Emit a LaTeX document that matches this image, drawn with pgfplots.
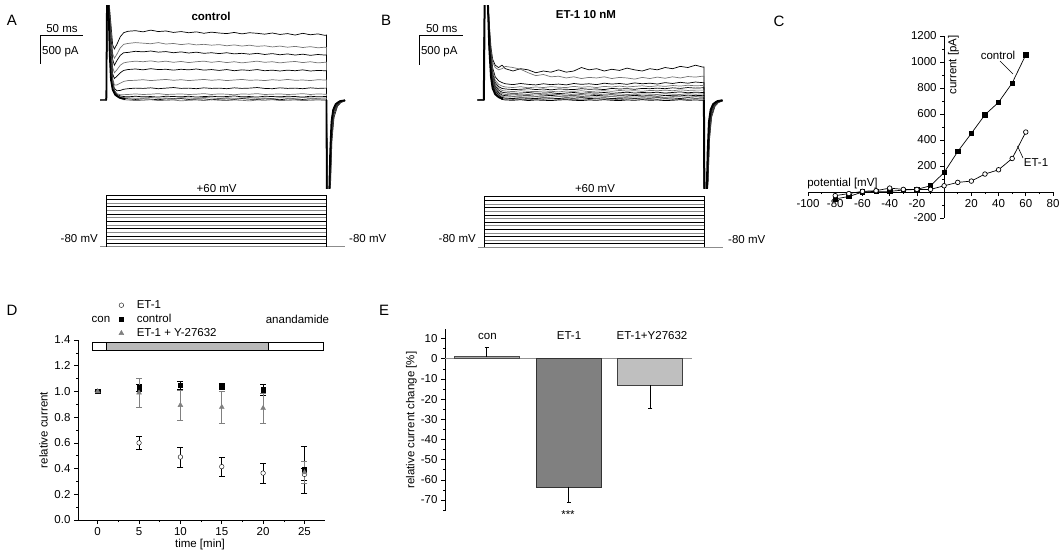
\documentclass[border=0pt]{standalone}
\usepackage{fontspec}
\setmainfont{Liberation Sans}
\usepackage{pgfplots}
\usepackage{pgfplotstable}
\pgfplotsset{compat=1.18}
\definecolor{tr}{gray}{0.45}
\definecolor{protg}{gray}{0.55}
\definecolor{triG}{gray}{0.5}
\newcommand{\fs}{\fontsize{11.5}{13}\selectfont}
\newcommand{\fl}{\fontsize{15}{17}\selectfont}
\pgfplotsset{
  every axis/.append style={font=\fs, /pgf/number format/assume math mode=true,
    /pgf/number format/set thousands separator={},
    tick style={black, line width=0.6pt}, major tick length=4pt, minor tick length=2pt,
    axis line style={line width=0.7pt}, enlargelimits=false},
  traceax/.style={anchor=south west, scale only axis, hide axis, width=245pt, height=183pt,
    xmin=0, xmax=290, ymin=-1517, ymax=1638, clip=true},
  protax/.style={anchor=south west, scale only axis, hide axis, width=245pt,
    xmin=0, xmax=290, ymin=-80, ymax=60, clip=false},
}
% ---------- panel A current traces (t in ms, current in pA)
\pgfplotstableread{
t a b c d e f g h i j k l
0 0 0 0 0 0 0 0 0 0 0 0 0
4 0 5 -5 0 10 -5 5 0 -10 5 0 -5
7.5 0 0 0 0 0 0 0 0 0 0 0 0
8.3 1800 1800 1800 1800 1800 1800 1800 1800 1800 1800 1800 1800
10 1800 1800 1800 1800 1800 1800 1800 1800 1800 1800 1800 1800
13 1300 1200 1100 1000 900 800 700 650 620 600 580 560
15 950 800 700 560 450 380 330 300 280 270 260 250
17 880 720 600 470 370 260 200 170 160 150 140 130
20 960 790 680 520 410 260 160 110 95 85 75 65
24 1090 900 770 600 470 290 165 90 70 55 40 30
28 1160 960 815 640 510 320 185 92 60 42 22 5
33 1185 975 820 655 525 335 195 95 55 40 20 0
42 1195 990 840 670 535 340 205 105 65 30 10 -10
51 1175 980 830 660 520 350 200 95 55 35 20 -5
60 1205 970 845 675 540 335 210 100 60 45 15 5
69 1180 990 825 655 525 345 195 110 50 30 5 -10
78 1190 965 835 670 530 355 205 95 65 35 20 -5
87 1165 975 815 650 515 340 215 100 60 25 15 0
96 1180 955 830 665 530 350 200 105 55 40 25 -15
105 1160 970 810 645 520 335 205 95 65 35 10 -5
114 1175 950 825 660 535 345 195 100 50 30 15 0
123 1150 960 805 670 515 355 210 110 60 45 20 -10
132 1170 945 815 650 525 340 200 95 65 35 5 5
141 1155 955 800 665 510 350 205 105 55 25 15 -5
150 1145 935 815 645 525 335 195 100 60 40 20 -10
159 1165 950 795 660 505 345 210 90 70 30 10 0
168 1140 930 805 640 520 355 200 105 55 35 25 -5
177 1160 945 790 655 510 340 205 100 60 45 15 -15
186 1150 925 805 670 525 345 215 110 50 30 10 0
195 1135 935 785 650 505 335 200 95 65 35 20 -5
204 1155 915 800 660 515 350 195 100 60 25 15 5
213 1130 930 780 640 500 340 210 105 55 40 5 -10
222 1145 910 795 655 515 355 200 95 65 35 20 -5
231 1120 925 775 665 505 340 205 100 60 30 15 0
240 1150 905 790 645 520 345 195 110 50 45 10 -10
249 1125 920 770 660 500 335 210 95 65 35 20 -5
258 1140 900 785 640 510 350 200 105 55 30 15 0
266 1115 910 775 650 505 345 205 100 60 35 15 -5
268 1120 905 775 650 505 345 205 100 60 35 15 -5
268.6 -1800 -1800 -1800 -1800 -1800 -1800 -1800 -1800 -1800 -1800 -1800 -1800
271 -1800 -1800 -1800 -1800 -1800 -1800 -1800 -1800 -1800 -1800 -1800 -1800
273 -1400 -1300 -1200 -1100 -1000 -900 -850 -800 -780 -760 -740 -720
274.5 -700 -620 -560 -500 -440 -390 -360 -340 -320 -310 -300 -290
277 -300 -260 -230 -200 -180 -160 -150 -140 -135 -130 -125 -120
281 -110 -100 -90 -80 -70 -60 -55 -50 -48 -45 -42 -40
285 -45 -40 -35 -30 -28 -25 -22 -20 -18 -16 -14 -12
290 -15 -12 -10 -10 -8 -8 -6 -5 -5 -4 -3 -2
}\traceA
% ---------- panel B current traces
\pgfplotstableread{
t a b c d e f g h i j k l m
0 0 0 0 0 0 0 0 0 0 0 0 0 0
4 5 0 -5 10 0 -5 5 -10 0 5 -5 0 5
7.5 0 0 0 0 0 0 0 0 0 0 0 0 0
8.5 1800 1800 1800 1800 1800 1800 1800 1800 1800 1800 1800 1800 1800
12 1800 1800 1800 1800 1800 1800 1800 1800 1800 1800 1800 1800 1800
14 1300 1250 1200 1150 1100 1050 1000 980 960 940 920 900 880
16 900 850 800 750 700 650 620 600 580 560 540 520 500
18 700 650 550 500 450 420 400 380 360 340 320 300 280
21 600 560 400 340 300 270 240 220 200 180 160 140 120
25 560 520 330 270 230 200 170 145 125 105 85 65 50
29 600 540 300 240 200 165 135 110 85 65 45 25 10
33 540 580 280 225 190 155 125 95 75 50 30 15 0
42 500 560 265 215 180 145 115 100 65 55 25 10 -5
51 540 530 285 230 185 160 120 90 70 45 35 15 5
60 520 470 270 210 195 150 130 95 75 50 30 5 -10
69 470 420 260 225 180 145 115 105 65 55 25 15 0
78 500 440 280 215 190 155 120 90 70 45 35 10 -5
87 480 400 265 230 175 150 125 100 80 50 30 20 -10
96 520 410 275 220 190 140 110 95 65 60 25 10 0
105 480 380 260 215 185 155 120 85 70 45 35 15 5
114 500 400 285 235 180 150 130 100 75 55 30 5 -5
123 560 370 270 220 195 160 115 95 65 50 40 15 -10
132 520 390 280 230 185 145 125 105 70 45 25 10 0
141 540 380 265 215 190 155 120 90 80 55 30 20 -5
150 500 400 290 235 180 160 130 100 70 50 35 10 5
159 530 370 275 225 200 150 115 95 65 60 25 15 -5
168 510 390 285 240 190 165 125 105 75 45 30 5 -10
177 550 380 270 225 195 155 135 95 70 55 35 15 0
186 520 360 295 235 185 160 120 90 80 50 25 20 -5
195 500 390 280 245 200 150 130 105 70 60 35 10 5
204 540 370 290 230 195 165 125 100 75 50 30 15 -5
213 520 395 275 245 205 160 135 95 65 55 40 10 0
222 560 375 300 235 195 170 120 110 80 45 30 20 -10
231 540 400 285 250 210 160 130 100 75 60 35 10 -5
240 580 380 305 240 200 175 140 95 70 55 25 15 5
249 560 405 290 255 215 165 125 110 85 50 40 10 -5
258 600 395 310 245 205 170 135 100 75 60 30 20 0
266 570 410 300 250 210 170 130 105 80 55 35 15 -5
268 570 410 300 250 210 170 130 105 80 55 35 15 -5
268.6 -1800 -1800 -1800 -1800 -1800 -1800 -1800 -1800 -1800 -1800 -1800 -1800 -1800
271 -1800 -1800 -1800 -1800 -1800 -1800 -1800 -1800 -1800 -1800 -1800 -1800 -1800
273 -1400 -1350 -1250 -1150 -1050 -980 -920 -870 -830 -800 -780 -760 -740
274.5 -700 -660 -600 -540 -480 -430 -400 -370 -350 -330 -315 -300 -290
277 -300 -280 -250 -220 -195 -175 -160 -150 -140 -132 -126 -120 -115
281 -110 -105 -95 -85 -75 -65 -58 -52 -48 -45 -42 -40 -38
285 -45 -42 -38 -33 -29 -26 -23 -20 -18 -16 -14 -12 -10
290 -15 -13 -11 -10 -9 -8 -7 -6 -5 -4 -3 -2 -2
}\traceB
\begin{document}
\begin{tikzpicture}
\useasboundingbox (0,0) rectangle (1063pt,-554pt);
% ================= Panel A =================
\node[font=\fl] at (12pt,-20pt) {A};
\node[font=\fs\bfseries] at (211pt,-16pt) {control};
\draw[line width=0.7pt] (40.7pt,-35pt) -- (83.3pt,-35pt);
\draw[line width=0.7pt] (40.7pt,-35pt) -- (40.7pt,-64pt);
\node[font=\fs] at (62pt,-28.5pt) {50 ms};
\node[font=\fs, anchor=west, inner sep=0.5pt] at (41.5pt,-52pt) {500 pA};
\begin{axis}[traceax, at={(100pt,-188pt)}]
\addplot[black, line width=0.7pt] table[x=t,y=a]{\traceA};
\addplot[tr, line width=0.7pt] table[x=t,y=b]{\traceA};
\addplot[black, line width=0.7pt] table[x=t,y=c]{\traceA};
\addplot[tr, line width=0.7pt] table[x=t,y=d]{\traceA};
\addplot[black, line width=0.7pt] table[x=t,y=e]{\traceA};
\addplot[tr, line width=0.7pt] table[x=t,y=f]{\traceA};
\addplot[black, line width=0.7pt] table[x=t,y=g]{\traceA};
\addplot[tr, line width=0.7pt] table[x=t,y=h]{\traceA};
\addplot[black, line width=0.7pt] table[x=t,y=i]{\traceA};
\addplot[tr, line width=0.7pt] table[x=t,y=j]{\traceA};
\addplot[black, line width=0.7pt] table[x=t,y=k]{\traceA};
\addplot[tr, line width=0.7pt] table[x=t,y=l]{\traceA};
\addplot[black, line width=1.8pt] coordinates {(7.5,0)(8.3,1800)(9.8,1800)(11.5,800)(13,350)(15,180)(18,90)(23,40)(30,15)};
\addplot[black, line width=1.8pt] coordinates {(268,0)(268.6,-1800)(271,-1800)(272.5,-900)(274,-380)(276,-170)(279,-70)(284,-20)(290,-5)};
\end{axis}
\begin{axis}[protax, height=51pt, at={(100pt,-246.7pt)}]
\addplot[protg, line width=0.8pt] coordinates {(0,-80)(290,-80)};
\addplot[black] coordinates {(8,-70)(268.5,-70)};
\addplot[protg] coordinates {(8,-60)(268.5,-60)};
\addplot[black] coordinates {(8,-50)(268.5,-50)};
\addplot[protg] coordinates {(8,-40)(268.5,-40)};
\addplot[black] coordinates {(8,-30)(268.5,-30)};
\addplot[protg] coordinates {(8,-20)(268.5,-20)};
\addplot[black] coordinates {(8,-10)(268.5,-10)};
\addplot[protg] coordinates {(8,0)(268.5,0)};
\addplot[black] coordinates {(8,10)(268.5,10)};
\addplot[protg] coordinates {(8,20)(268.5,20)};
\addplot[black] coordinates {(8,30)(268.5,30)};
\addplot[protg] coordinates {(8,40)(268.5,40)};
\addplot[black] coordinates {(8,50)(268.5,50)};
\addplot[black, line width=0.7pt] coordinates {(8,-80)(8,60)(268.5,60)(268.5,-80)};
\end{axis}
\node[font=\fs] at (216.7pt,-188.5pt) {+60 mV};
\node[font=\fs, anchor=east, inner sep=1pt] at (99pt,-239pt) {-80 mV};
\node[font=\fs, anchor=west, inner sep=1pt] at (348pt,-239pt) {-80 mV};
% ================= Panel B =================
\node[font=\fl] at (386pt,-20pt) {B};
\node[font=\fs\bfseries] at (586pt,-15pt) {ET-1 10 nM};
\draw[line width=0.7pt] (419.5pt,-35pt) -- (463.3pt,-35pt);
\draw[line width=0.7pt] (419.5pt,-35pt) -- (419.5pt,-65pt);
\node[font=\fs] at (441.7pt,-28.5pt) {50 ms};
\node[font=\fs, anchor=west, inner sep=0.5pt] at (420.3pt,-52pt) {500 pA};
\begin{axis}[traceax, at={(477.5pt,-188pt)}]
\addplot[black, line width=0.7pt] table[x=t,y=a]{\traceB};
\addplot[tr, line width=0.7pt] table[x=t,y=b]{\traceB};
\addplot[black, line width=0.7pt] table[x=t,y=c]{\traceB};
\addplot[tr, line width=0.7pt] table[x=t,y=d]{\traceB};
\addplot[black, line width=0.7pt] table[x=t,y=e]{\traceB};
\addplot[tr, line width=0.7pt] table[x=t,y=f]{\traceB};
\addplot[black, line width=0.7pt] table[x=t,y=g]{\traceB};
\addplot[tr, line width=0.7pt] table[x=t,y=h]{\traceB};
\addplot[black, line width=0.7pt] table[x=t,y=i]{\traceB};
\addplot[tr, line width=0.7pt] table[x=t,y=j]{\traceB};
\addplot[black, line width=0.7pt] table[x=t,y=k]{\traceB};
\addplot[tr, line width=0.7pt] table[x=t,y=l]{\traceB};
\addplot[black, line width=0.7pt] table[x=t,y=m]{\traceB};
\addplot[black, line width=2pt] coordinates {(7.5,0)(8.5,1800)(12,1800)(14,900)(16,400)(18,200)(21,100)(25,50)(30,20)};
\addplot[black, line width=2pt] coordinates {(268,0)(268.6,-1800)(271,-1800)(272.5,-900)(274,-380)(276,-170)(279,-70)(284,-20)(290,-5)};
\end{axis}
\begin{axis}[protax, height=50.6pt, at={(477.5pt,-247.3pt)}]
\addplot[protg, line width=0.8pt] coordinates {(0,-80)(290,-80)};
\addplot[black] coordinates {(8,-70)(268.5,-70)};
\addplot[protg] coordinates {(8,-60)(268.5,-60)};
\addplot[black] coordinates {(8,-50)(268.5,-50)};
\addplot[protg] coordinates {(8,-40)(268.5,-40)};
\addplot[black] coordinates {(8,-30)(268.5,-30)};
\addplot[protg] coordinates {(8,-20)(268.5,-20)};
\addplot[black] coordinates {(8,-10)(268.5,-10)};
\addplot[protg] coordinates {(8,0)(268.5,0)};
\addplot[black] coordinates {(8,10)(268.5,10)};
\addplot[protg] coordinates {(8,20)(268.5,20)};
\addplot[black] coordinates {(8,30)(268.5,30)};
\addplot[protg] coordinates {(8,40)(268.5,40)};
\addplot[black] coordinates {(8,50)(268.5,50)};
\addplot[black, line width=0.7pt] coordinates {(8,-80)(8,60)(268.5,60)(268.5,-80)};
\end{axis}
\node[font=\fs] at (595pt,-189pt) {+60 mV};
\node[font=\fs, anchor=east, inner sep=1pt] at (477pt,-239pt) {-80 mV};
\node[font=\fs, anchor=west, inner sep=1pt] at (727pt,-240pt) {-80 mV};
% ================= Panel C =================
\node[font=\fl] at (779pt,-21pt) {C};
\begin{axis}[at={(808pt,-218pt)}, anchor=south west, scale only axis, width=245pt, height=182pt,
  axis lines=middle, axis line style={-}, xmin=-100, xmax=80, ymin=-200, ymax=1200,
  xtick={-100,-80,-60,-40,-20,20,40,60,80}, minor xtick={-90,-70,-50,-30,-10,0,10,30,50,70},
  ytick={-200,200,400,600,800,1000,1200}, minor ytick={-100,0,100,300,500,700,900,1100},
  tick align=outside, clip=false]
\addplot[black, line width=0.7pt, mark=square*, mark size=2.2pt] coordinates {(-80,-53)(-70,-35)(-60,0)(-50,5)(-40,5)(-30,15)(-20,20)(-10,48)(0,150)(10,311)(20,451)(30,594)(40,690)(50,838)(60,1055)};
\addplot[black, line width=0.7pt, mark=*, mark size=2.3pt, mark options={fill=white}] coordinates {(-80,-28)(-70,-12)(-60,5)(-50,10)(-40,30)(-30,20)(-20,20)(-10,20)(0,48)(10,74)(20,84)(30,138)(40,171)(50,258)(60,461)};
\end{axis}
\node[font=\fs] at (842.5pt,-184pt) {potential [mV]};
\node[font=\fs, rotate=90] at (953.5pt,-65pt) {current [pA]};
\node[font=\fs] at (998pt,-55pt) {control};
\draw[line width=0.6pt] (1000pt,-61pt) -- (1013pt,-74pt);
\node[font=\fs] at (1036pt,-163pt) {ET-1};
\draw[line width=0.6pt] (1017.5pt,-146pt) -- (1023pt,-158pt);
% ================= Panel D =================
\node[font=\fl] at (12pt,-310pt) {D};
\begin{axis}[at={(78pt,-520pt)}, anchor=south west, scale only axis, width=247pt, height=180pt,
  xmin=-2.38, xmax=27.48, ymin=0, ymax=1.4,
  axis x line*=bottom, axis y line*=left, axis line style={-},
  xtick={0,5,10,15,20,25}, minor xtick={2.5,7.5,12.5,17.5,22.5},
  ytick={0,0.2,0.4,0.6,0.8,1.0,1.2,1.4}, minor ytick={0.1,0.3,0.5,0.7,0.9,1.1,1.3},
  yticklabel style={/pgf/number format/.cd, fixed, fixed zerofill, precision=1},
  tick align=outside, clip=false,
  ylabel={relative current},
  ylabel style={at={(axis description cs:0,0.5)}, anchor=south, xshift=0pt, yshift=30pt, inner sep=0pt},
  legend image code/.code={\draw[#1] plot coordinates {(0pt,0pt)};},
  legend style={at={(0.165,1.2333)}, anchor=north west, draw=none, fill=none, font=\fs,
    row sep=0pt, column sep=12pt, inner sep=0pt, nodes={inner sep=1pt, text height=9pt, text depth=3pt}},
  legend cell align=left]
\addplot[only marks, black, mark=*, mark size=2.3pt, mark options={fill=white},
  error bars/.cd, y dir=both, y explicit, error bar style={black, line width=0.7pt}, error mark options={rotate=90, black, mark size=3pt, line width=0.7pt}]
  coordinates {(0,1.0)+-(0,0) (5,0.60)+-(0,0.053) (10,0.49)+-(0,0.077) (15,0.415)+-(0,0.072) (20,0.365)+-(0,0.077) (25,0.355)+-(0,0.05)};
\addlegendentry{ET-1}
\addplot[only marks, black, mark=square*, mark size=2.2pt,
  error bars/.cd, y dir=both, y explicit, error bar style={black, line width=0.7pt}, error mark options={rotate=90, black, mark size=3pt, line width=0.7pt}]
  coordinates {(0,1.0)+-(0,0) (5,1.028)+-(0,0.03) (10,1.048)+-(0,0.034) (15,1.038)+-(0,0.022) (20,1.013)+-(0,0.042) (25,0.39)+-(0,0.185)};
\addlegendentry{control}
\addplot[only marks, triG, mark=triangle*, mark size=2.8pt,
  error bars/.cd, y dir=both, y explicit, error bar style={gray, line width=0.7pt}, error mark options={rotate=90, gray, mark size=3pt, line width=0.7pt}]
  coordinates {(0,1.0)+-(0,0) (5,0.99)+-(0,0.112) (10,0.893)+-(0,0.115) (15,0.878)+-(0,0.125) (20,0.87)+-(0,0.117) (25,0.37)+-(0,0.085)};
\addlegendentry{ET-1 + Y-27632}
\draw[black, line width=0.7pt, fill=white] (axis cs:-0.6,1.322) rectangle (axis cs:27.3,1.382);
\draw[black, line width=0.7pt, fill=gray!55] (axis cs:1,1.322) rectangle (axis cs:20.6,1.382);
\end{axis}
\node[font=\fs] at (200pt,-545pt) {time [min]};
\node[font=\fs] at (101pt,-319pt) {con};
\node[font=\fs] at (297.5pt,-319pt) {anandamide};
% ================= Panel E =================
\node[font=\fl] at (384pt,-310.5pt) {E};
\begin{axis}[at={(445pt,-510.7pt)}, anchor=south west, scale only axis, width=246.7pt, height=181.4pt,
  xmin=-0.51, xmax=2.506, ymin=-75.3, ymax=14.6,
  axis y line*=left, axis x line=none, axis line style={-},
  ytick={-70,-60,-50,-40,-30,-20,-10,0,10}, minor ytick={-75,-65,-55,-45,-35,-25,-15,-5,5},
  tick align=outside, clip=false,
  ylabel={relative current change [\%]},
  ylabel style={at={(axis description cs:0,0.5)}, anchor=south, yshift=28pt, inner sep=0pt}]
\addplot[gray!85, line width=0.9pt, forget plot] coordinates {(-0.51,0)(2.506,0)};
\addplot[ybar, bar width=0.795, bar shift=0pt, draw=gray!60!black, fill=gray!70, line width=0.7pt,
  error bars/.cd, y dir=plus, y explicit, error bar style={black, line width=0.7pt}, error mark options={rotate=90, black, mark size=2pt, line width=0.7pt}]
  coordinates {(0,1)+-(0,4.5)};
\addplot[ybar, bar width=0.795, bar shift=0pt, draw=gray!40!black, fill=gray, line width=0.7pt,
  error bars/.cd, y dir=minus, y explicit, error bar style={black, line width=0.7pt}, error mark options={rotate=90, black, mark size=2pt, line width=0.7pt}]
  coordinates {(1,-63.5)+-(0,7.8)};
\addplot[ybar, bar width=0.795, bar shift=0pt, draw=gray!50!black, fill=gray!50, line width=0.7pt,
  error bars/.cd, y dir=minus, y explicit, error bar style={black, line width=0.7pt}, error mark options={rotate=90, black, mark size=2pt, line width=0.7pt}]
  coordinates {(2,-13.2)+-(0,11.3)};
\end{axis}
\node[font=\fs] at (487.5pt,-336pt) {con};
\node[font=\fs] at (569pt,-336pt) {ET-1};
\node[font=\fs] at (652pt,-336pt) {ET-1+Y27632};
\node[font=\fs] at (568pt,-515pt) {***};
\end{tikzpicture}
\end{document}
